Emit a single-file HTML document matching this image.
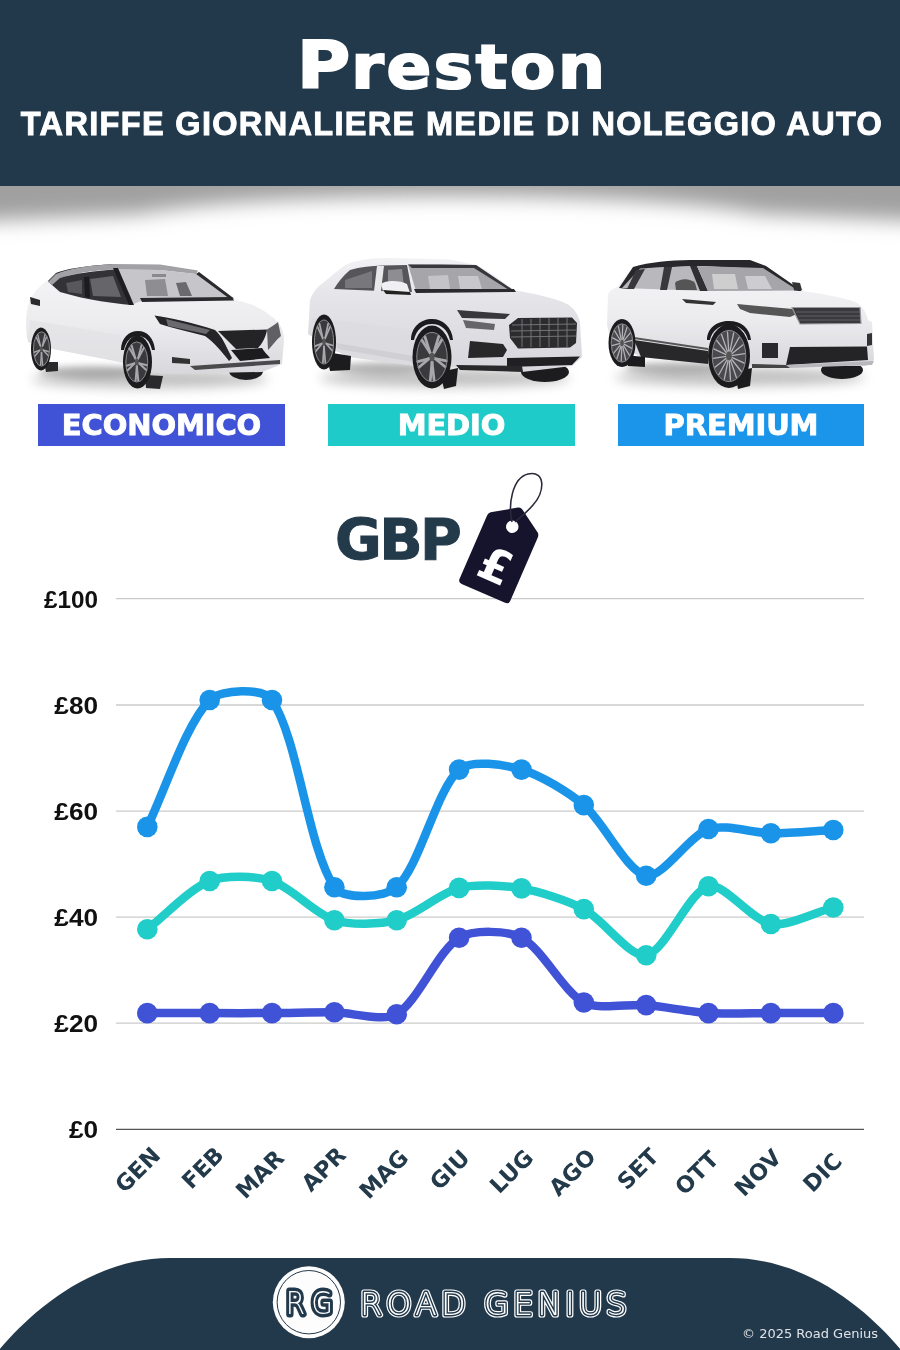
<!DOCTYPE html>
<html><head><meta charset="utf-8"><title>Preston - Tariffe giornaliere medie di noleggio auto</title>
<style>
*{margin:0;padding:0;box-sizing:border-box}
html,body{width:900px;height:1350px;background:#fff;overflow:hidden}
body{position:relative;font-family:"Liberation Sans",Arial,sans-serif}
.abs{position:absolute}
#hdr{left:0;top:0;width:900px;height:186px;background:#22384b}
#title{left:2px;top:25.5px;width:900px;text-align:center;color:#fff;font-family:"DejaVu Sans",sans-serif;font-weight:700;font-size:66px;line-height:80px;letter-spacing:3.1px;-webkit-text-stroke:2px #fff}
.tt{display:inline-block;transform:scaleX(1.1);font-size:60px;letter-spacing:2.4px}
.tt::first-letter{font-size:66px;letter-spacing:1px}
#sub{left:2px;top:104px;width:900px;text-align:center;color:#fff;font-weight:700;font-size:32.5px;line-height:40px;white-space:nowrap;letter-spacing:1.33px;-webkit-text-stroke:0.9px #fff}
.lab{top:404px;height:42px;color:#fff;font-family:"DejaVu Sans",sans-serif;font-weight:700;font-size:29px;line-height:42px;text-align:center;-webkit-text-stroke:0.9px #fff;letter-spacing:-0.1px}
#l1{left:38px;width:247px;background:#4052d6}
#l2{left:328px;width:247px;background:#1fcbc8}
#l3{left:618px;width:246px;background:#1b95ea}
#gbp{left:335px;top:506.5px;font-family:"DejaVu Sans",sans-serif;font-size:57px;line-height:66px;font-weight:700;color:#233a4b;letter-spacing:-2.6px;-webkit-text-stroke:1px #233a4b}
.yl{left:0;width:98px;text-align:right;font-weight:700;font-size:23px;line-height:24px;color:#111;transform-origin:97.5px 50%}
#copy{left:742px;top:1325px;font-family:"DejaVu Sans",sans-serif;font-size:13px;line-height:18px;color:#dfe3e8;white-space:nowrap}
</style></head><body>
<svg class="abs" style="left:0;top:150px" width="900" height="130" viewBox="0 150 900 130">
<defs><filter id="shb" x="-10%" y="-50%" width="120%" height="200%"><feGaussianBlur stdDeviation="10"/></filter></defs>
<path d="M-40,140 H940 V222 L760,214 C640,190 260,190 140,214 L-40,222 Z" fill="#a0a0a0" filter="url(#shb)"/>
</svg>
<div id="hdr" class="abs"></div>

<div id="title" class="abs"><span class="tt">Preston</span></div>
<div id="sub" class="abs">TARIFFE GIORNALIERE MEDIE DI NOLEGGIO AUTO</div>

<svg class="abs" style="left:0;top:0" width="900" height="1350" viewBox="0 0 900 1350">
<defs>
<filter id="blur6" x="-50%" y="-80%" width="200%" height="260%"><feGaussianBlur stdDeviation="6"/></filter>
<filter id="blur3" x="-50%" y="-50%" width="200%" height="200%"><feGaussianBlur stdDeviation="3"/></filter>
<filter id="blur1" x="-20%" y="-20%" width="140%" height="140%"><feGaussianBlur stdDeviation="0.8"/></filter>
<linearGradient id="body" x1="0" y1="0" x2="0" y2="1"><stop offset="0" stop-color="#f6f6f8"/><stop offset="0.55" stop-color="#ececef"/><stop offset="1" stop-color="#d8d8dc"/></linearGradient>
<linearGradient id="side" x1="0" y1="0" x2="0" y2="1"><stop offset="0" stop-color="#e6e6ea"/><stop offset="1" stop-color="#d2d2d7"/></linearGradient>
<linearGradient id="body2" x1="0" y1="0" x2="0" y2="1"><stop offset="0" stop-color="#f2f2f5"/><stop offset="0.35" stop-color="#e4e4e9"/><stop offset="1" stop-color="#d6d6dc"/></linearGradient>
</defs>
<g id="car1">
<ellipse cx="150" cy="379" rx="118" ry="9" fill="#8c8c8c" filter="url(#blur6)" opacity="0.55"/>
<ellipse cx="90" cy="372" rx="50" ry="6" fill="#777" filter="url(#blur3)" opacity="0.45"/>
<ellipse cx="246" cy="371" rx="17" ry="9" fill="#1e1e20"/>
<path d="M28,342 C25,330 25,312 30,300 C35,290 42,284 48,280 L56,273 C70,268 85,266 113,264 L160,265 L197,270.5 C210,280 222,290 232,299 C250,303 262,308 271,316 C280,322 284,330 284,340 L282,364 L262,372 L165,374 L152,372 L120,362 L53,349 Z" fill="url(#body)"/>
<path d="M30,320 L120,335 L125,362 L53,349 L28,342 Z" fill="#e2e2e6" opacity="0.7"/>
<path d="M48,281 L56,273 C70,268 85,266 113,264 L120,266 L118,268.5 C95,270 75,272 58,277 L52,285 Z" fill="#2a2a2d"/>
<path d="M30,297 L40,300 L40,306 L31,304 Z" fill="#2a2a2d"/>
<path d="M48,282 L56,274 C70,268.5 88,265.5 113,264 L160,264.6 L198,270.5 L196,274 L160,270 L113,269.5 C92,270.5 74,273 61,278 L54,286 Z" fill="#a2a2a6"/>
<path d="M52,285 L60,278 C76,273 95,271 116,269.5 L131,305 C110,303 90,300 75,296 L60,292 Z" fill="#333337"/>
<path d="M90,279 L113,276 L121,297 L93,296 Z" fill="#66666a"/>
<path d="M66,283 L82,280 L82,294 L68,292 Z" fill="#58585c"/>
<path d="M84,277 L89,276.5 L90,298 L85,297 Z" fill="#1c1c1e"/>
<path d="M116,269.5 L160,270 L196,274 L231,298 L145,299.5 L131,305 Z" fill="#c6c6ca"/>
<path d="M113,268 L118,268 L134,305 L129,305 Z" fill="#1e1e20"/>
<path d="M196,274 L199,272 L234,298.5 L230,299 Z" fill="#2a2a2c"/>
<path d="M145,280 L165,279 L168,296 L147,296 Z" fill="#8e8e92"/>
<path d="M176,283 L186,282 L192,296 L180,296 Z" fill="#6a6a6e"/>
<path d="M152,274 L166,274 L166,277 L152,277 Z" fill="#8a8a8e"/>
<path d="M140,298 L232,297 L234,300.5 L142,302 Z" fill="#2a2a2c"/>
<path d="M154.5,315.5 C170,318 195,323 215,330 C222,336 226,346 232,358 L229,361 C222,352 214,342 205,336 C190,332 172,328 160,324 Z" fill="#252528"/>
<path d="M166,319 L210,330 L206,334 L168,326 Z" fill="#6a6a6e"/>
<path d="M218,331 L267,329.5 C266,337 262,344 258,348 L236,349 C230,343 224,337 218,331 Z" fill="#242427"/>
<path d="M231,350 L262,348 C264,352 268,355 270,358 L240,361 Z" fill="#1c1c1e"/>
<path d="M267,329.5 C272,326 276,324 278,322 L281,336 C276,340 272,346 268,350 Z" fill="#606064"/>
<path d="M172,357 L190,359 L190,364 L172,363 Z" fill="#333"/>
<path d="M190,366 L280,360 L280,364 L195,370 Z" fill="#4a4a4c"/>
<path d="M44,362 L58,362 L58,371 L46,372 Z" fill="#2a2a2c"/>
<ellipse cx="41" cy="349" rx="10" ry="21.5" fill="#1c1c1e"/><ellipse cx="41.5" cy="349" rx="8.0" ry="17.2" fill="#3a3a3c"/><g stroke="#a8a8ac" stroke-width="1.44" stroke-linecap="round"><line x1="43.0" y1="350.0" x2="49.0" y2="351.8"/><line x1="43.0" y1="350.0" x2="48.4" y2="355.8"/><line x1="41.5" y1="352.4" x2="42.6" y2="365.2"/><line x1="41.5" y1="352.4" x2="40.6" y2="365.2"/><line x1="40.0" y1="350.1" x2="34.7" y2="356.2"/><line x1="40.0" y1="350.1" x2="34.0" y2="352.2"/><line x1="40.5" y1="346.2" x2="36.2" y2="337.3"/><line x1="40.5" y1="346.2" x2="37.8" y2="334.8"/><line x1="42.4" y1="346.2" x2="45.0" y2="334.5"/><line x1="42.4" y1="346.2" x2="46.6" y2="337.0"/></g><ellipse cx="41.5" cy="349" rx="8.0" ry="17.2" fill="none" stroke="#8a8a8e" stroke-width="1"/><ellipse cx="41.5" cy="349" rx="1.4" ry="2.9" fill="#555"/>
<path d="M145,375 L163,376 L160,389 L146,388 Z" fill="#2a2a2c"/>
<path d="M121,350 C121,338 129,331 138,331 C147,331 154,338 155,350 L152,350 C150,341 145,336 138,336 C131,336 126,341 124,350 Z" fill="#1c1c1e"/>
<ellipse cx="137.5" cy="362" rx="14.5" ry="26.5" fill="#1c1c1e"/><ellipse cx="136.8" cy="362" rx="11.0" ry="20.1" fill="#3a3a3c"/><g stroke="#a8a8ac" stroke-width="1.98" stroke-linecap="round"><line x1="138.9" y1="363.2" x2="147.1" y2="365.2"/><line x1="138.9" y1="363.2" x2="146.3" y2="370.0"/><line x1="136.8" y1="366.0" x2="138.3" y2="380.9"/><line x1="136.8" y1="366.0" x2="135.6" y2="381.0"/><line x1="134.7" y1="363.3" x2="127.4" y2="370.5"/><line x1="134.7" y1="363.3" x2="126.5" y2="365.8"/><line x1="135.5" y1="358.8" x2="129.5" y2="348.3"/><line x1="135.5" y1="358.8" x2="131.6" y2="345.3"/><line x1="138.0" y1="358.7" x2="141.6" y2="345.1"/><line x1="138.0" y1="358.7" x2="143.9" y2="347.9"/></g><ellipse cx="136.8" cy="362" rx="11.0" ry="20.1" fill="none" stroke="#8a8a8e" stroke-width="1"/><ellipse cx="136.8" cy="362" rx="1.9" ry="3.4" fill="#555"/>
</g>
<g id="car2">
<ellipse cx="445" cy="378" rx="125" ry="9" fill="#8c8c8c" filter="url(#blur6)" opacity="0.55"/>
<ellipse cx="380" cy="368" rx="45" ry="6" fill="#777" filter="url(#blur3)" opacity="0.45"/>
<ellipse cx="545" cy="372" rx="24" ry="10" fill="#1c1c1e"/>
<path d="M310,300 C312,294 315,290 318,287 C324,282 332,275 340,269 C345,265 349,263 355,261.5 C365,259 375,258 390,258 L450,259.5 L477,265 C490,272 503,282 514,290 C535,294 555,298 567,304 C574,308 578,314 580,322 L582,357 L572,366 L522,372 L456,367 L416,366 L350,357 L336,351 L308,334 Z" fill="url(#body2)"/>
<path d="M312,318 L415,330 L416,366 L350,357 L336,351 L308,334 Z" fill="#dcdce0" opacity="0.8"/>
<path d="M336,343 L414,356 L414,362 L338,349 Z" fill="#cfcfd4"/>
<path d="M334,289 C338,282 343,276 350,270 C360,267 372,266 382,265.5 L407,265 L412,292 L380,291 Z" fill="#55555a"/>
<path d="M377,266 L384,266 L381,291 L374,291 Z" fill="#e8e8ea"/>
<path d="M388,270 L402,269 L404,287 L388,287 Z" fill="#8e8e92"/>
<path d="M345,280 L372,271 L372,288 L345,288 Z" fill="#78787c"/>
<path d="M381,284 C385,280 400,280 407,284 L410,293 L383,291 Z" fill="#f0f0f2"/>
<path d="M383,290 L410,292 L411,295 L386,294 Z" fill="#222"/>
<path d="M408,264.5 L440,264 L476,265 L513,290 L416,291 Z" fill="#a6a6aa"/>
<path d="M408,264.5 L476,265 L513,290 L509,290 L474,268 L412,268 Z" fill="#38383c"/>
<path d="M428,276 L448,275 L450,289 L430,289 Z" fill="#c4c4c8"/>
<path d="M458,276 L478,276 L482,289 L460,289 Z" fill="#c8c8cc"/>
<path d="M414,289 L514,289 L516,292 L416,293 Z" fill="#2a2a2c"/>
<path d="M457,310 L510,314 L505,319 L462,318 Z" fill="#38383c"/>
<path d="M463,320 L495,324 L494,330 L466,328 Z" fill="#66666a"/>
<path d="M509,325 L518,318 L572,317.5 L577,323 L576,343 L570,347.5 L518,348.5 L510,338 Z" fill="#2c2c2f"/>
<g stroke="#7a7a7e" stroke-width="0.9"><line x1="512" y1="325" x2="576" y2="324"/><line x1="511" y1="331" x2="576" y2="330"/><line x1="511" y1="337" x2="576" y2="336"/><line x1="522" y1="319" x2="522" y2="347"/><line x1="531" y1="319" x2="531" y2="347"/><line x1="540" y1="318" x2="540" y2="347"/><line x1="549" y1="318" x2="549" y2="347"/><line x1="558" y1="318" x2="558" y2="347"/><line x1="567" y1="318" x2="567" y2="347"/></g>
<path d="M470,341 L503,344 L507,350 L503,357 L468,358 Z" fill="#28282a"/>
<path d="M507,358 L580,356.5 L572,365 L507,367 Z" fill="#202022"/>
<path d="M456,365 L522,366 L523,372 L460,370 Z" fill="#28282a"/>
<path d="M326,352 L351,356 L350,370 L330,371 Z" fill="#1c1c1e"/>
<ellipse cx="324" cy="342" rx="12" ry="27.5" fill="#1c1c1e"/><ellipse cx="324.0" cy="342" rx="9.6" ry="22.0" fill="#3a3a3c"/><g stroke="#a8a8ac" stroke-width="1.73" stroke-linecap="round"><line x1="325.8" y1="343.3" x2="333.0" y2="345.5"/><line x1="325.8" y1="343.3" x2="332.3" y2="350.7"/><line x1="324.0" y1="346.4" x2="325.3" y2="362.7"/><line x1="324.0" y1="346.4" x2="322.9" y2="362.8"/><line x1="322.2" y1="343.4" x2="315.8" y2="351.2"/><line x1="322.2" y1="343.4" x2="315.1" y2="346.1"/><line x1="322.8" y1="338.5" x2="317.6" y2="327.0"/><line x1="322.8" y1="338.5" x2="319.5" y2="323.8"/><line x1="325.1" y1="338.4" x2="328.2" y2="323.5"/><line x1="325.1" y1="338.4" x2="330.2" y2="326.6"/></g><ellipse cx="324.0" cy="342" rx="9.6" ry="22.0" fill="none" stroke="#8a8a8e" stroke-width="1"/><ellipse cx="324.0" cy="342" rx="1.6" ry="3.7" fill="#555"/>
<path d="M440,372 L458,368 L456,386 L444,389 Z" fill="#1c1c1e"/>
<path d="M411,340 C411,327 421,319 432,319 C443,319 452,327 453,340 L450,340 C448,330 441,324 432,324 C423,324 416,330 414,340 Z" fill="#1c1c1e"/>
<ellipse cx="432" cy="357" rx="19.5" ry="31.5" fill="#1c1c1e"/><ellipse cx="432.0" cy="357" rx="15.2" ry="24.6" fill="#3a3a3c"/><g stroke="#a8a8ac" stroke-width="2.74" stroke-linecap="round"><line x1="434.9" y1="358.5" x2="446.2" y2="360.9"/><line x1="434.9" y1="358.5" x2="445.1" y2="366.7"/><line x1="432.0" y1="361.9" x2="434.1" y2="380.1"/><line x1="432.0" y1="361.9" x2="430.3" y2="380.2"/><line x1="429.1" y1="358.6" x2="419.0" y2="367.3"/><line x1="429.1" y1="358.6" x2="417.8" y2="361.6"/><line x1="430.2" y1="353.1" x2="421.9" y2="340.3"/><line x1="430.2" y1="353.1" x2="424.9" y2="336.7"/><line x1="433.8" y1="353.0" x2="438.7" y2="336.3"/><line x1="433.8" y1="353.0" x2="441.8" y2="339.8"/></g><ellipse cx="432.0" cy="357" rx="15.2" ry="24.6" fill="none" stroke="#8a8a8e" stroke-width="1"/><ellipse cx="432.0" cy="357" rx="2.6" ry="4.2" fill="#555"/>
</g>
<g id="car3">
<ellipse cx="740" cy="377" rx="125" ry="9" fill="#8c8c8c" filter="url(#blur6)" opacity="0.55"/>
<ellipse cx="675" cy="368" rx="50" ry="6" fill="#777" filter="url(#blur3)" opacity="0.45"/>
<ellipse cx="842" cy="370" rx="21" ry="9" fill="#1c1c1e"/>
<path d="M608,295 C609,291 612,289 617,287 L633,267 C650,262 670,260.5 690,260 L750,260 L766,266 C778,274 790,283 802,291 C825,294 845,298 855,302 C862,305 866,312 868,320 L872,322 L874,360 L866,366 L790,366 L750,366 L708,364 L640,357 L610,337 L607,325 Z" fill="url(#body)"/>
<path d="M619,288 L633,267 C650,262 670,260.5 690,260 L750,260 L766,266 C778,274 790,283 802,291 L795,291 C785,284 775,276 763,269 L700,266 L648,268 L628,289 Z" fill="#28282c"/>
<path d="M622,288 L640,268.5 L693,266 L706,291 Z" fill="#b8b8bd"/>
<path d="M636,270 L645,269 L634,289 L627,289 Z" fill="#38383c"/>
<path d="M664,267 L672,267 L667,290 L660,290 Z" fill="#38383c"/>
<path d="M690,266 L697,266 L708,291 L700,291 Z" fill="#303034"/>
<path d="M675,283 C680,278 690,278 695,283 L697,290 L676,290 Z" fill="#555"/>
<path d="M697,266 L763,268 L798,290.5 L708,291 Z" fill="#a6a6aa"/>
<path d="M712,274 L735,274 L738,289 L714,289 Z" fill="#cecece"/>
<path d="M745,276 L765,276 L772,289 L748,289 Z" fill="#cdcdd1"/>
<path d="M792,282 L800,283 L802,290 L794,290 Z" fill="#333"/>
<path d="M682,299 L716,302 L713,305 L686,303 Z" fill="#333"/>
<path d="M737,304 L793,309 L797,314 L790,317 L750,313 L740,309 Z" fill="#555"/>
<path d="M792,307.5 L860,307.5 L861,323.5 L800,324 Z" fill="#3a3a3e" stroke="#9a9a9e" stroke-width="1.2"/>
<g stroke="#6a6a6e" stroke-width="0.8"><line x1="796" y1="312" x2="859" y2="312"/><line x1="798" y1="316" x2="860" y2="316"/><line x1="799" y1="320" x2="860" y2="320"/></g>
<path d="M634,340 L708,351 L708,364 L641,357 Z" fill="#28282b"/>
<path d="M634,337 L708,348 L708,350 L634,339 Z" fill="#555"/>
<path d="M790,347 L867,346.5 L868,360 L786,365 Z" fill="#242427"/>
<path d="M762,343 L778,343 L778,358 L762,358 Z" fill="#2a2a2d"/>
<path d="M867,334 L872,333 L872,345 L867,346 Z" fill="#333"/>
<path d="M786,365 L874,361 L872,365 L790,368 Z" fill="#b8b8bc"/>
<path d="M752,364 L786,365 L790,368 L752,368 Z" fill="#444"/>
<path d="M624,355 L645,357 L645,367 L628,366 Z" fill="#1c1c1e"/>
<ellipse cx="622" cy="343" rx="13.5" ry="24" fill="#1c1c1e"/><ellipse cx="622.0" cy="343" rx="10.8" ry="19.2" fill="#4a4a4e"/><g stroke="#b4b4b8" stroke-width="1.20" stroke-linecap="round"><line x1="623.5" y1="343.9" x2="631.8" y2="348.4"/><line x1="623.2" y1="345.0" x2="629.5" y2="355.4"/><line x1="622.6" y1="345.7" x2="625.7" y2="360.0"/><line x1="621.9" y1="345.9" x2="621.2" y2="361.2"/><line x1="621.2" y1="345.5" x2="616.9" y2="358.8"/><line x1="620.7" y1="344.6" x2="613.5" y2="353.3"/><line x1="620.4" y1="343.4" x2="611.9" y2="345.7"/><line x1="620.5" y1="342.1" x2="612.2" y2="337.6"/><line x1="620.8" y1="341.0" x2="614.5" y2="330.6"/><line x1="621.4" y1="340.3" x2="618.3" y2="326.0"/><line x1="622.1" y1="340.1" x2="622.8" y2="324.8"/><line x1="622.8" y1="340.5" x2="627.1" y2="327.2"/><line x1="623.3" y1="341.4" x2="630.5" y2="332.7"/><line x1="623.6" y1="342.6" x2="632.1" y2="340.3"/></g><ellipse cx="622.0" cy="343" rx="10.8" ry="19.2" fill="none" stroke="#8a8a8e" stroke-width="1"/><ellipse cx="622.0" cy="343" rx="1.8" ry="3.3" fill="#555"/>
<path d="M735,372 L752,368 L750,386 L738,389 Z" fill="#1c1c1e"/>
<path d="M707,340 C707,328 717,321 729,321 C741,321 750,328 751,340 L748,340 C746,331 739,325 729,325 C719,325 712,331 710,340 Z" fill="#1c1c1e"/>
<ellipse cx="729" cy="356" rx="21" ry="32" fill="#1c1c1e"/><ellipse cx="729.0" cy="356" rx="16.8" ry="25.6" fill="#4a4a4e"/><g stroke="#b4b4b8" stroke-width="1.30" stroke-linecap="round"><line x1="731.4" y1="357.1" x2="744.2" y2="363.2"/><line x1="730.9" y1="358.5" x2="741.3" y2="371.5"/><line x1="730.2" y1="359.4" x2="736.4" y2="377.5"/><line x1="729.2" y1="359.8" x2="730.5" y2="380.2"/><line x1="728.3" y1="359.7" x2="724.3" y2="379.2"/><line x1="727.4" y1="359.0" x2="718.8" y2="374.7"/><line x1="726.8" y1="357.8" x2="714.9" y2="367.3"/><line x1="726.5" y1="356.4" x2="713.1" y2="358.3"/><line x1="726.6" y1="354.9" x2="713.8" y2="348.8"/><line x1="727.1" y1="353.5" x2="716.7" y2="340.5"/><line x1="727.8" y1="352.6" x2="721.6" y2="334.5"/><line x1="728.8" y1="352.2" x2="727.5" y2="331.8"/><line x1="729.7" y1="352.3" x2="733.7" y2="332.8"/><line x1="730.6" y1="353.0" x2="739.2" y2="337.3"/><line x1="731.2" y1="354.2" x2="743.1" y2="344.7"/><line x1="731.5" y1="355.6" x2="744.9" y2="353.7"/></g><ellipse cx="729.0" cy="356" rx="16.8" ry="25.6" fill="none" stroke="#8a8a8e" stroke-width="1"/><ellipse cx="729.0" cy="356" rx="2.9" ry="4.4" fill="#555"/>
</g>
</svg>

<div id="l1" class="abs lab">ECONOMICO</div>
<div id="l2" class="abs lab">MEDIO</div>
<div id="l3" class="abs lab">PREMIUM</div>

<div id="gbp" class="abs">GBP</div>

<svg class="abs" style="left:0;top:0" width="900" height="1350" viewBox="0 0 900 1350">
<g stroke="#cbcbcb" stroke-width="1.3">
<line x1="116" y1="598.7" x2="864" y2="598.7"/>
<line x1="116" y1="705" x2="864" y2="705"/>
<line x1="116" y1="811.1" x2="864" y2="811.1"/>
<line x1="116" y1="917.1" x2="864" y2="917.1"/>
<line x1="116" y1="1023.2" x2="864" y2="1023.2"/>
</g>
<line x1="116" y1="1129.3" x2="864" y2="1129.3" stroke="#555" stroke-width="1.3"/>
<!-- price tag -->
<g transform="translate(458,582.4) rotate(23.46)">
<path d="M4,0 L51.3,0 Q55.3,0 55.3,-4 L55.3,-73 Q55.3,-75.6 53.5,-77.3 L30,-92.5 Q27.6,-94 25.2,-92.5 L2,-77.3 Q0,-75.6 0,-73 L0,-4 Q0,0 4,0 Z" fill="#15142c"/>
<circle cx="27.6" cy="-72.7" r="6.2" fill="#fff"/>
<text x="27.6" y="-14" text-anchor="middle" font-family="DejaVu Sans" font-weight="700" font-size="46" fill="#fff">£</text>
</g>
<path d="M512,522 C508,505 512,478 528,474 C546,470 545,492 533,505 C527,512 520,518 515,522" fill="none" stroke="#2a2a3c" stroke-width="1.6"/>
<g fill="#4052d6"><path d="M147.3,1013.1 C164.8,1013.1 192.2,1013.1 209.7,1013.1 C227.1,1013.1 254.6,1013.2 272.0,1013.1 C289.5,1013.0 316.9,1012.2 334.4,1012.3 C351.8,1012.5 383.2,1022.2 396.7,1014.2 C418.1,1001.4 437.7,950.9 459.1,937.8 C472.6,929.5 507.2,930.3 521.5,937.8 C542.1,948.5 563.2,991.4 583.8,1002.5 C598.1,1010.2 628.8,1003.7 646.2,1005.1 C663.7,1006.6 691.0,1012.0 708.5,1013.1 C725.9,1014.2 753.4,1013.1 770.9,1013.1 C788.4,1013.1 815.8,1013.1 833.3,1013.1" fill="none" stroke="#4052d6" stroke-width="8.5" stroke-linecap="round"/><circle cx="147.3" cy="1013.1" r="10.3"/><circle cx="209.7" cy="1013.1" r="10.3"/><circle cx="272.0" cy="1013.1" r="10.3"/><circle cx="334.4" cy="1012.3" r="10.3"/><circle cx="396.7" cy="1014.2" r="10.3"/><circle cx="459.1" cy="937.8" r="10.3"/><circle cx="521.5" cy="937.8" r="10.3"/><circle cx="583.8" cy="1002.5" r="10.3"/><circle cx="646.2" cy="1005.1" r="10.3"/><circle cx="708.5" cy="1013.1" r="10.3"/><circle cx="770.9" cy="1013.1" r="10.3"/><circle cx="833.3" cy="1013.1" r="10.3"/></g>
<g fill="#20cdc8"><path d="M147.3,929.3 C164.8,915.7 190.2,888.5 209.7,881.0 C225.1,875.0 256.0,875.9 272.0,881.0 C290.9,886.9 315.5,914.3 334.4,920.2 C350.4,925.3 380.3,924.5 396.7,920.2 C415.2,915.4 440.6,892.6 459.1,887.9 C475.5,883.7 504.5,885.5 521.5,888.4 C539.4,891.5 567.8,900.5 583.8,909.1 C602.7,919.2 630.3,958.2 646.2,955.3 C665.2,951.8 689.0,891.2 708.5,886.3 C723.9,882.4 752.4,920.8 770.9,924.0 C787.3,926.7 815.8,912.1 833.3,907.5" fill="none" stroke="#20cdc8" stroke-width="8.5" stroke-linecap="round"/><circle cx="147.3" cy="929.3" r="10.3"/><circle cx="209.7" cy="881.0" r="10.3"/><circle cx="272.0" cy="881.0" r="10.3"/><circle cx="334.4" cy="920.2" r="10.3"/><circle cx="396.7" cy="920.2" r="10.3"/><circle cx="459.1" cy="887.9" r="10.3"/><circle cx="521.5" cy="888.4" r="10.3"/><circle cx="583.8" cy="909.1" r="10.3"/><circle cx="646.2" cy="955.3" r="10.3"/><circle cx="708.5" cy="886.3" r="10.3"/><circle cx="770.9" cy="924.0" r="10.3"/><circle cx="833.3" cy="907.5" r="10.3"/></g>
<g fill="#1a94e8"><path d="M147.3,826.9 C164.8,791.4 185.4,724.7 209.7,700.0 C220.4,689.2 263.6,687.5 272.0,700.0 C298.6,739.9 307.8,847.5 334.4,887.3 C342.8,899.9 385.6,897.9 396.7,887.3 C420.5,864.9 435.3,792.0 459.1,769.6 C470.2,759.0 505.2,764.9 521.5,769.6 C540.1,774.9 568.7,792.3 583.8,805.1 C603.6,822.0 627.1,872.0 646.2,875.7 C662.0,878.7 689.2,835.6 708.5,829.0 C724.1,823.7 753.4,833.1 770.9,833.2 C788.4,833.4 815.8,830.9 833.3,830.0" fill="none" stroke="#1a94e8" stroke-width="8.5" stroke-linecap="round"/><circle cx="147.3" cy="826.9" r="10.3"/><circle cx="209.7" cy="700.0" r="10.3"/><circle cx="272.0" cy="700.0" r="10.3"/><circle cx="334.4" cy="887.3" r="10.3"/><circle cx="396.7" cy="887.3" r="10.3"/><circle cx="459.1" cy="769.6" r="10.3"/><circle cx="521.5" cy="769.6" r="10.3"/><circle cx="583.8" cy="805.1" r="10.3"/><circle cx="646.2" cy="875.7" r="10.3"/><circle cx="708.5" cy="829.0" r="10.3"/><circle cx="770.9" cy="833.2" r="10.3"/><circle cx="833.3" cy="830.0" r="10.3"/></g>

<g font-family="DejaVu Sans" font-weight="700" font-size="22.5" fill="#233a4b" text-anchor="end" dominant-baseline="middle">
<text transform="translate(157.1,1152.2) rotate(-45)">GEN</text><text transform="translate(220.6,1151.8) rotate(-45)">FEB</text><text transform="translate(281.0,1155.0) rotate(-45)">MAR</text><text transform="translate(342.7,1152.0) rotate(-45)">APR</text><text transform="translate(405.3,1154.5) rotate(-45)">MAG</text><text transform="translate(466.6,1154.7) rotate(-45)">GIU</text><text transform="translate(530.2,1154.7) rotate(-45)">LUG</text><text transform="translate(592.8,1153.7) rotate(-45)">AGO</text><text transform="translate(655.4,1153.2) rotate(-45)">SET</text><text transform="translate(715.4,1156.0) rotate(-45)">OTT</text><text transform="translate(778.2,1154.3) rotate(-45)">NOV</text><text transform="translate(838.8,1158.0) rotate(-45)">DIC</text>
</g>
</svg>
<div class="abs yl" style="top:588px;transform:scaleX(1.056)">£100</div>
<div class="abs yl" style="top:694px;transform:scaleX(1.14)">£80</div>
<div class="abs yl" style="top:800px;transform:scaleX(1.14)">£60</div>
<div class="abs yl" style="top:906px;transform:scaleX(1.14)">£40</div>
<div class="abs yl" style="top:1012px;transform:scaleX(1.14)">£20</div>
<div class="abs yl" style="top:1118px;transform:scaleX(1.14)">£0</div>

<svg class="abs" style="left:0;top:1250px" width="900" height="100" viewBox="0 1250 900 100"><path d="M-5,1354.7 C22.6,1320.9 85,1258 170,1258 L730,1258 C815,1258 877.4,1320.9 905,1354.7 L905,1360 L-5,1360 Z" fill="#22384b"/></svg>
<svg class="abs" style="left:0;top:1250px" width="900" height="100" viewBox="0 1250 900 100">
<circle cx="308.8" cy="1302.2" r="36" fill="#fdfdfd"/>
<circle cx="308.8" cy="1302.2" r="31.7" fill="none" stroke="#22384b" stroke-width="1"/>
<g font-family="DejaVu Sans" font-weight="200" font-size="32.5" text-anchor="middle" stroke-linejoin="round" transform="translate(309.3,0) scale(0.86,1) translate(-309.3,0)" letter-spacing="7">
<text x="312.8" y="1314.3" fill="#22384b" stroke="#22384b" stroke-width="7">RG</text>
<text x="312.8" y="1314.3" fill="#fff">RG</text>
</g>
<g font-family="DejaVu Sans" font-weight="200" font-size="32" letter-spacing="4.1" stroke-linejoin="round">
<text x="360" y="1315.2" fill="#fff" stroke="#fff" stroke-width="5.2">ROAD GENIUS</text>
<text x="360" y="1315.2" fill="#22384b" stroke="#22384b" stroke-width="2.8">ROAD GENIUS</text>
<text x="360" y="1315.2" fill="#fff">ROAD GENIUS</text>
</g>
</svg>
<div id="copy" class="abs">© 2025 Road Genius</div>
</body></html>
